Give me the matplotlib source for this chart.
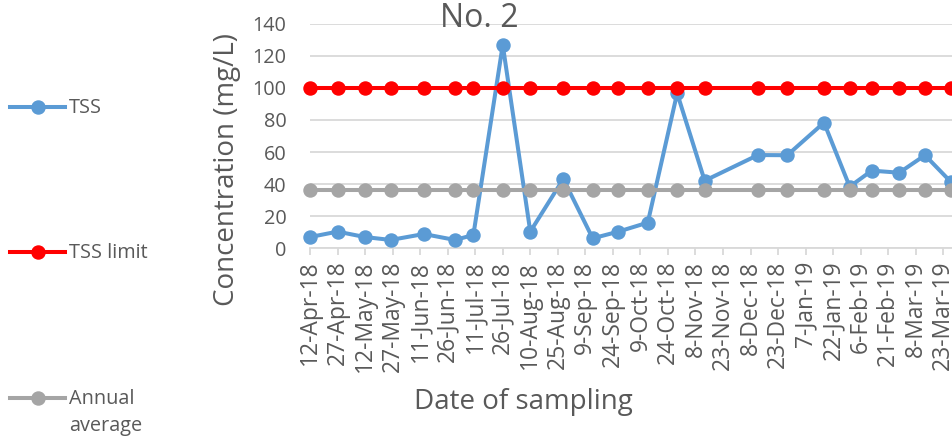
import numpy as np
import matplotlib
matplotlib.use("Agg")
import matplotlib.pyplot as plt
from matplotlib.lines import Line2D
from datetime import datetime

plt.rcParams['font.family'] = ['Open Sans', 'DejaVu Sans']

# sampling dates and measured TSS (mg/L)
sample_dates = np.array([
    '2018-04-12', '2018-04-27', '2018-05-12', '2018-05-26', '2018-06-13',
    '2018-06-30', '2018-07-10', '2018-07-26', '2018-08-10', '2018-08-28',
    '2018-09-13', '2018-09-27', '2018-10-13', '2018-10-29', '2018-11-13',
    '2018-12-12', '2018-12-28', '2019-01-17', '2019-01-31', '2019-02-12',
    '2019-02-27', '2019-03-13', '2019-03-27'], dtype='datetime64[D]')
tss = [7, 10.4, 7, 5.2, 8.9, 5.2, 8.3, 126.7, 10.4, 43.2, 6.2, 10.4, 16,
       96.6, 42.1, 58.1, 58, 78.3, 38.4, 48.4, 47.1, 58, 41.5]
tss_limit = [100] * len(tss)
annual_average = [36.1] * len(tss)

tick_labels = ['12-Apr-18', '27-Apr-18', '12-May-18', '27-May-18', '11-Jun-18',
               '26-Jun-18', '11-Jul-18', '26-Jul-18', '10-Aug-18', '25-Aug-18',
               '9-Sep-18', '24-Sep-18', '9-Oct-18', '24-Oct-18', '8-Nov-18',
               '23-Nov-18', '8-Dec-18', '23-Dec-18', '7-Jan-19', '22-Jan-19',
               '6-Feb-19', '21-Feb-19', '8-Mar-19', '23-Mar-19']
y_ticks = [0, 20, 40, 60, 80, 100, 120, 140]

W, H = 952, 442
txt = '#595959'
grid = '#D9D9D9'
blue, red, gray = '#5B9BD5', '#FF0000', '#A5A5A5'

fig = plt.figure(figsize=(W / 100, H / 100), dpi=100)
# axes runs past the right edge, like the cropped original
px_per_day = 1.8357
n_days = 370
ax = fig.add_axes([310 / W, (H - 248.3) / H, n_days * px_per_day / W, 140 * 1.605 / H])

x = matplotlib.dates.date2num(sample_dates.astype(object))
lw, ms = 2.9, 9.4
ax.plot(x, tss, color=blue, lw=lw, marker='o', ms=ms, clip_on=False, zorder=3)
ax.plot(x, tss_limit, color=red, lw=lw, marker='o', ms=ms, clip_on=False, zorder=4)
ax.plot(x, annual_average, color=gray, lw=lw, marker='o', ms=ms, clip_on=False, zorder=5)

t0 = matplotlib.dates.date2num(datetime(2018, 4, 12))
ax.set_xlim(t0, t0 + n_days)
ax.set_ylim(0, 140)

tick_pos = [matplotlib.dates.date2num(datetime.strptime(s, '%d-%b-%y')) for s in tick_labels]
ax.set_xticks(tick_pos)
ax.set_xticklabels(tick_labels, rotation=90, ha='center', va='top', fontsize=16.5, color=txt)
ax.set_yticks(y_ticks)
ax.set_yticklabels([str(v) for v in y_ticks], fontsize=14.3, color=txt)
ax.tick_params(axis='y', length=0, pad=17)
ax.tick_params(axis='x', length=5, width=1.3, color=grid, pad=4)

ax.grid(axis='y', color=grid, lw=1.3)
ax.set_axisbelow(True)
for s in ['top', 'right', 'left']:
    ax.spines[s].set_visible(False)
ax.spines['bottom'].set_color(grid)
ax.spines['bottom'].set_linewidth(1.3)

fig.text(479 / W, 1 - 27 / H, 'No. 2', fontsize=23, color=txt, ha='center', va='baseline')
fig.text(227 / W, 1 - 170 / H, 'Concentration (mg/L)', fontsize=20, color=txt,
         rotation=90, ha='center', va='center')
fig.text(523 / W, 1 - 402 / H, 'Date of sampling', fontsize=20, color=txt,
         ha='center', va='center')

# legend on the left, spread out like the original
legend_items = [('TSS', blue, 107), ('TSS limit', red, 252), ('Annual\naverage', gray, 398)]
for label, c, yp in legend_items:
    fy = 1 - yp / H
    fig.add_artist(Line2D([10 / W, 65 / W], [fy, fy], color=c, lw=lw))
    fig.add_artist(Line2D([38 / W], [fy], color=c, marker='o', ms=ms))
    fig.text(69 / W, 1 - (yp - 9) / H, label, fontsize=14.3, color=txt,
             ha='left', va='top', linespacing=1.45)

fig.savefig('out.png', dpi=100)
